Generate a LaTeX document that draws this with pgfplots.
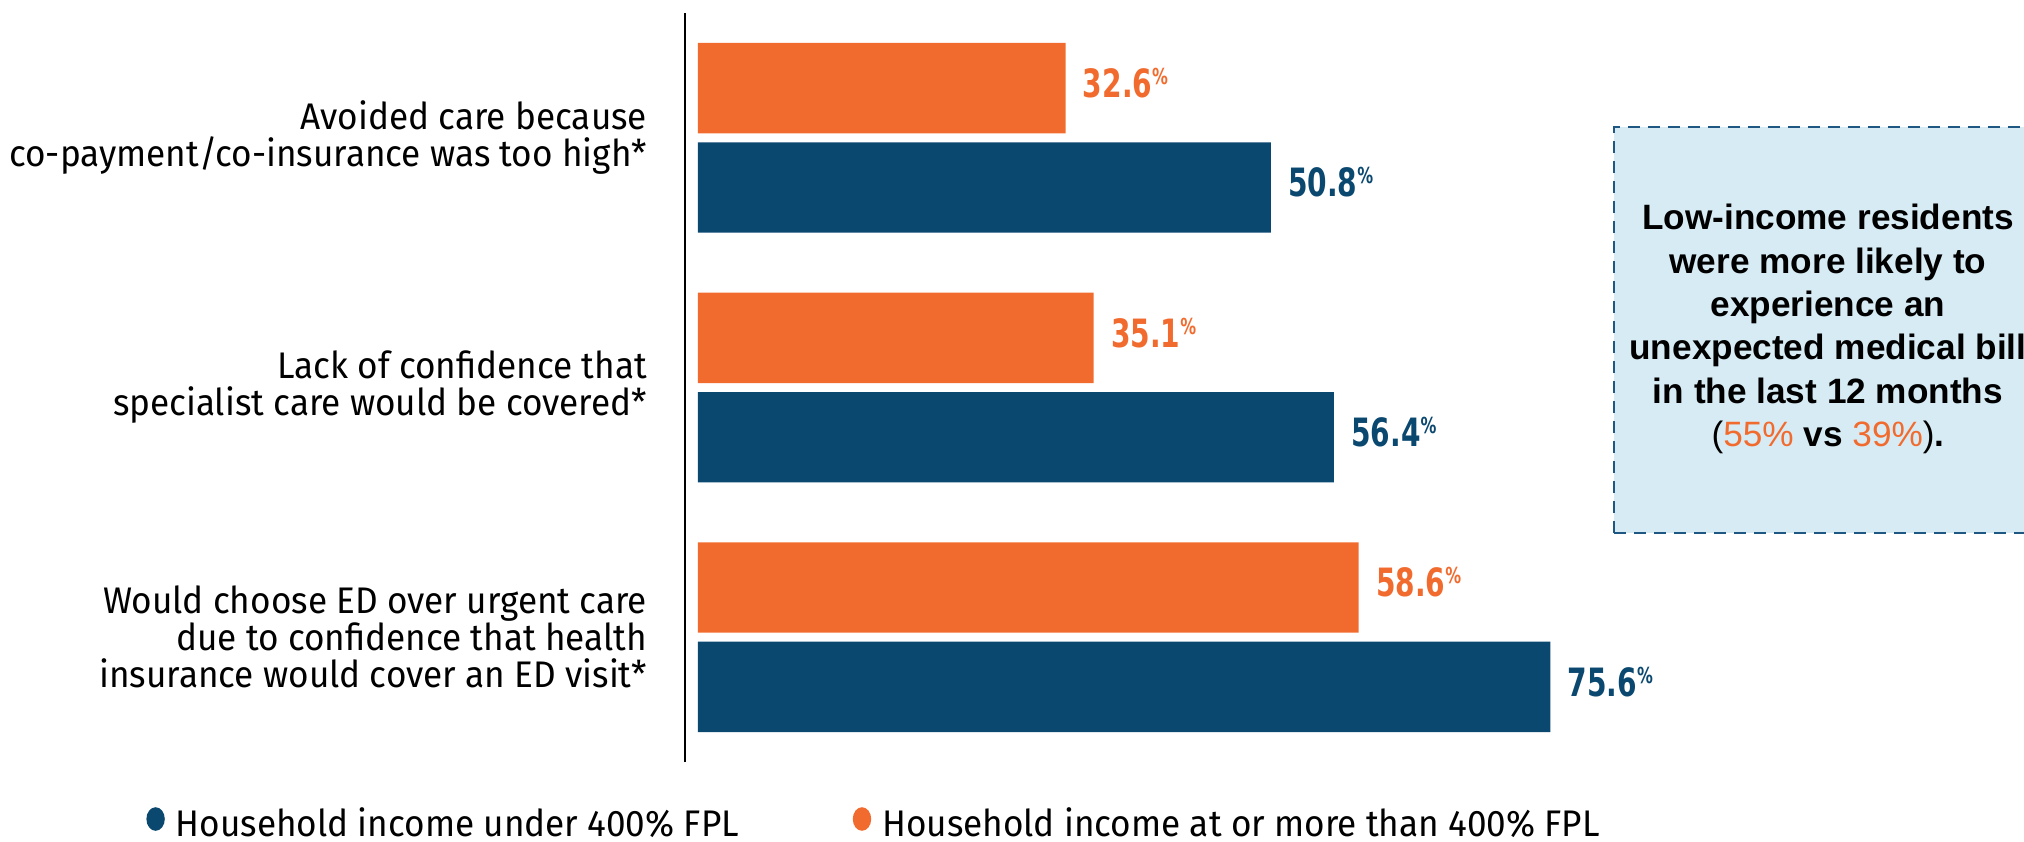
\documentclass[border=0pt]{standalone}
\usepackage{fontspec}
\usepackage{pgfplots}
\pgfplotsset{compat=1.18}
\setmainfont{Fira Sans}[FakeStretch=0.95]
\newfontfamily\valfont{DejaVu Sans}[FakeStretch=0.72]
\newfontfamily\boxfont{Liberation Sans}
\definecolor{cblue}{RGB}{11,72,112}
\definecolor{corange}{RGB}{242,107,46}
\definecolor{boxfill}{RGB}{214,235,244}
\definecolor{boxline}{RGB}{30,88,130}
\begin{document}
\begin{tikzpicture}
\useasboundingbox (0pt,0pt) rectangle (1012pt,-420.5pt);
\clip (0pt,0pt) rectangle (1012pt,-420.5pt);
\node[draw=boxline, dash pattern=on 6pt off 4pt, line width=1.2pt, fill=boxfill,
      minimum width=215pt, minimum height=203pt, anchor=north west, inner sep=0pt] at (806.5pt,-63pt) {};
\node[align=center, font=\boxfont\bfseries\fontsize{17.6}{21.7}\selectfont, anchor=center] at (914pt,-164.5pt)
 {Low-income residents\\ were more likely to\\ experience an\\ unexpected medical bill\\ in the last 12 months\\
  {\mdseries(\textcolor{corange}{55\%}} vs {\mdseries\textcolor{corange}{39\%})}.};
\begin{axis}[
  at={(342.5pt,-381pt)}, anchor=south west,
  scale only axis, width=570.25pt, height=374.5pt,
  xmin=-1.15, xmax=100, ymin=-0.5, ymax=2.5,
  axis x line=none, axis y line*=left,
  y axis line style={black, line width=1pt, -},
  xtick=\empty, ytick={0,1,2},
  yticklabels={{Would choose ED over urgent care\\due to confidence that health\\insurance would cover an ED visit*},
               {Lack of confidence that\\specialist care would be covered*},
               {Avoided care because\\co-payment/co-insurance was too high*}},
  ytick style={draw=none},
  yticklabel style={align=right, inner sep=0pt, xshift=-14.5pt, font=\fontsize{18.5}{18.5}\selectfont},
  xbar, bar width=0.362, bar shift=0pt,
  point meta=x,
  /pgf/number format/assume math mode=true,
  nodes near coords={\pgfmathprintnumber[fixed,fixed zerofill,precision=1]{\pgfplotspointmeta}\raisebox{6.5pt}{\fontsize{11}{11}\selectfont\%}},
  nodes near coords style={anchor=west, xshift=8.5pt, yshift=2.5pt, inner sep=0pt, font=\valfont\bfseries\fontsize{19.5}{19.5}\selectfont},
  clip=false,
  legend columns=2,
  legend style={draw=none, fill=none, inner sep=0pt, at={(-0.4726,-0.0822)}, anchor=west,
                nodes={inner sep=0pt}, column sep=5.5pt, font=\fontsize{18.5}{18.5}\selectfont},
]
\addplot[fill=cblue, draw=none, every node near coord/.append style={text=cblue},
  legend image code/.code={\fill[cblue] (4.5pt,2.5pt) ellipse [x radius=4.6pt, y radius=5.9pt];}]
  coordinates {(50.8,1.801) (56.4,0.801) (75.6,-0.199)};
\addlegendentry{\makebox[333pt][l]{Household income under 400\% FPL}}
\addplot[fill=corange, draw=none, every node near coord/.append style={text=corange},
  legend image code/.code={\fill[corange] (4.5pt,2.5pt) ellipse [x radius=4.6pt, y radius=5.9pt];}]
  coordinates {(32.6,2.199) (35.1,1.199) (58.6,0.199)};
\addlegendentry{Household income at or more than 400\% FPL}
\end{axis}
\end{tikzpicture}
\end{document}
